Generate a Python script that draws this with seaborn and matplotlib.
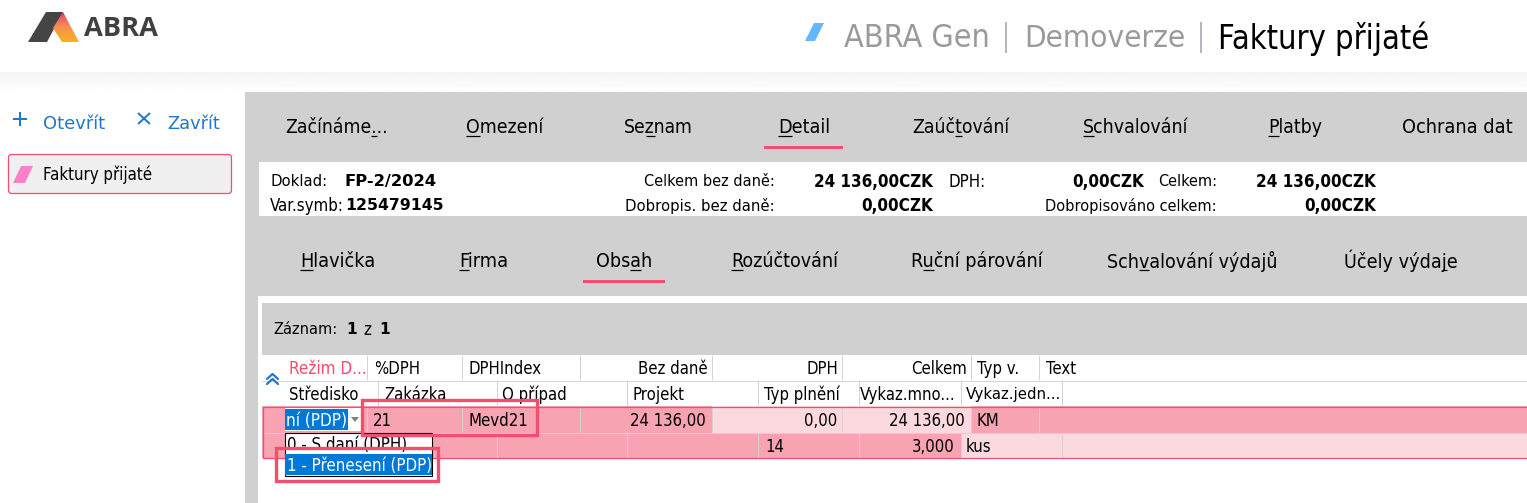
import numpy as np
import matplotlib
matplotlib.use("Agg")
import matplotlib.pyplot as plt
from matplotlib import font_manager
from matplotlib.patches import Rectangle, Polygon, FancyBboxPatch
from matplotlib.colors import LinearSegmentedColormap
import seaborn as sns

# ---- content ----
main_tabs = ["Začínáme...", "Omezení", "Seznam", "Detail", "Zaúčtování", "Schvalování", "Platby", "Ochrana dat"]
sub_tabs = ["Hlavička", "Firma", "Obsah", "Rozúčtování", "Ruční párování", "Schvalování výdajů", "Účely výdaje"]
header_top = ["Režim D...", "%DPH", "DPHIndex", "Bez daně", "DPH", "Celkem", "Typ v.", "Text"]
header_bottom = ["Středisko", "Zakázka", "O případ", "Projekt", "Typ plnění", "Vykaz.mno...", "Vykaz.jedn..."]
row_one = ["21", "Mevd21", "24 136,00", "0,00", "24 136,00", "KM"]
row_two = ["14", "3,000", "kus"]
dropdown_items = ["0 - S daní (DPH)", "1 - Přenesení (PDP)"]
title_parts = ["ABRA Gen", "Demoverze", "Faktury přijaté"]

sns.set_theme(style="white")
has_cond = any(f.name == "DejaVu Sans" and f.stretch == "condensed" for f in font_manager.fontManager.ttflist)
BASE = "DejaVu Sans" if has_cond else "Noto Sans"
STRETCH = "condensed" if has_cond else "normal"
plt.rcParams["font.family"] = [BASE, "DejaVu Sans"]

W, H = 1527, 503
fig = plt.figure(figsize=(W / 100, H / 100), dpi=100, facecolor="white")
ax = fig.add_axes([0, 0, 1, 1])
sns.despine(ax=ax, left=True, bottom=True)
ax.set_xticks([]); ax.set_yticks([])

GREY = "#d0d0d0"; PINK = "#f7a3b2"; LIGHT = "#fbd9df"; RED = "#f24e6f"; LINE = "#d4d4d4"
BLUE = "#2277cc"; SEL = "#0078d7"
TBL = 16.6

def box(x0, y0, x1, y1, fc, ec="none", lw=0, z=1):
    ax.add_patch(Rectangle((x0, y0), x1 - x0, y1 - y0, fc=fc, ec=ec, lw=lw, zorder=z))

def line(x0, y0, x1, y1, c=LINE, lw=1.0, z=3):
    ax.plot([x0, x1], [y0, y1], color=c, lw=lw * 0.72, zorder=z, solid_capstyle="butt")

def txt(x, y, s, px=TBL, c="black", ha="left", w="normal", fam=None, under=None, z=6, target=None, st=None):
    kw = {"family": fam} if fam else {}
    kw["stretch"] = st or STRETCH
    y = y - 0.8
    t = ax.text(x, y, s, fontsize=px * 0.72, color=c, ha=ha, va="center_baseline", fontweight=w, zorder=z, **kw)
    if target:
        r = fig.canvas.get_renderer()
        wd = t.get_window_extent(r).width
        t.set_fontsize(t.get_fontsize() * target / wd)
    if under is not None:
        r = fig.canvas.get_renderer()
        a, b = under
        fs = t.get_fontsize()
        def width(sub):
            if not sub:
                return 0
            q = ax.text(0, 0, sub, fontsize=fs, fontweight=w, **kw)
            e = q.get_window_extent(r).width
            q.remove()
            return e
        x0 = x + width(s[:a]); x1 = x + width(s[:b])
        line(x0, y + px * 0.56, x1, y + px * 0.56, c="black", lw=1.2, z=z)
    return t

# backgrounds
box(0, 72, W, 92, "white")
shade = np.linspace(0.955, 1, 20).reshape(-1, 1)
ax.imshow(shade, extent=(0, W, 92, 72), cmap="gray", vmin=0, vmax=1, aspect="auto", zorder=1)
box(245, 92, W, H, GREY)
box(259, 162, W, 216, "white", z=2)
box(258, 296, W, H, "white", z=2)
box(262, 303, W, 355, GREY, z=3)

# logo
dark = Polygon([(28, 42), (46, 12), (63, 12), (47, 42)], fc="#454545", ec="none", zorder=4)
ax.add_patch(dark)
tri = Polygon([(63, 12), (79, 42), (62, 42), (53, 28)], fc="none", ec="none", zorder=5)
ax.add_patch(tri)
cm = LinearSegmentedColormap.from_list("logo", [(0, "#e0107f"), (0.15, "#ee5a6a"), (0.5, "#f49050"), (1, "#fbb020")])
im = ax.imshow(np.linspace(0, 1, 30).reshape(-1, 1), extent=(50, 80, 42, 12), cmap=cm, aspect="auto", zorder=5)
im.set_clip_path(tri)
txt(84, 27, "ABRA", px=28, c="#404040", w="bold", fam="Open Sans", target=74, st="normal")

# title bar
ax.add_patch(Polygon([(805, 41), (814, 23), (824, 23), (815, 41)], fc="#63b7ff", ec="none", zorder=4))
txt(844, 36, title_parts[0], px=30, c="#9a9a9a", target=146)
line(1006, 22, 1006, 53, c="#a5a5b5", lw=1.6)
txt(1024, 36, title_parts[1], px=30, c="#9a9a9a", target=162)
line(1201, 22, 1201, 53, c="#a5a5b5", lw=1.6)
txt(1218, 36, title_parts[2], px=30, c="black", target=212)

# sidebar
line(20, 112, 20, 126, c=BLUE, lw=2); line(13, 119, 27, 119, c=BLUE, lw=2)
line(138, 113, 150, 124, c=BLUE, lw=2); line(150, 113, 138, 124, c=BLUE, lw=2)
txt(43, 123, "Otevřít", px=16, c=BLUE, fam="DejaVu Sans", target=62, st="normal")
txt(167, 123, "Zavřít", px=16, c=BLUE, fam="DejaVu Sans", target=53, st="normal")
ax.add_patch(FancyBboxPatch((8.5, 154.5), 223, 39, boxstyle="round,pad=0,rounding_size=3",
                            fc="#f0f0f0", ec=RED, lw=0.9, zorder=3))
ax.add_patch(Polygon([(13, 183), (21, 166), (33, 166), (25, 183)], fc="#ff7fc8", ec="none", zorder=4))
txt(43, 174, "Faktury přijaté", px=16, target=109)

# main tabs
main_x = [285, 466, 624, 778, 912, 1083, 1268, 1402]
main_w = [103, 78, 69, 52, 97, 105, 54, 110]
main_u = [(8, 9), (0, 1), (2, 3), (0, 1), (4, 5), (0, 1), (0, 1), None]
for s, x, wd, u in zip(main_tabs, main_x, main_w, main_u):
    txt(x, 126, s, px=19, target=wd, under=u)
box(764, 146, 843, 149, RED, z=5)

# info panel
txt(270, 181, "Doklad:", target=57)
txt(345, 181, "FP-2/2024", w="bold", fam="DejaVu Sans", target=93, st="normal")
txt(270, 205, "Var.symb:", target=74)
txt(345, 205, "125479145", w="bold", fam="DejaVu Sans", target=99, st="normal")
txt(775, 181, "Celkem bez daně:", ha="right", target=132)
txt(775, 205, "Dobropis. bez daně:", ha="right", target=149)
txt(933, 181, "24 136,00CZK", w="bold", ha="right", target=119)
txt(933, 205, "0,00CZK", w="bold", ha="right", target=72)
txt(948, 181, "DPH:", target=37)
txt(1144, 181, "0,00CZK", w="bold", ha="right", target=72)
txt(1158, 181, "Celkem:", target=59)
txt(1376, 181, "24 136,00CZK", w="bold", ha="right", target=120)
txt(1217, 205, "Dobropisováno celkem:", ha="right", target=172)
txt(1376, 205, "0,00CZK", w="bold", ha="right", target=72)

# sub tabs
sub_x = [300, 459, 596, 731, 911, 1107, 1344]
sub_w = [75, 49, 56, 107, 131, 170, 113]
sub_u = [(0, 1), (0, 1), (3, 4), (0, 1), (1, 2), (3, 4), (10, 11)]
for s, x, wd, u in zip(sub_tabs, sub_x, sub_w, sub_u):
    txt(x, 260, s, px=19, target=wd, under=u)
box(583, 280, 665, 283, RED, z=5)

# record bar
txt(273, 329, "Záznam:", target=64)
txt(346, 329, "1", px=15.5, w="bold", fam="DejaVu Sans", st="normal")
txt(363, 329, "z")
txt(379, 329, "1", px=15.5, w="bold", fam="DejaVu Sans", st="normal")

# table
top_sep = [367, 462, 580, 712, 842, 971, 1039]
bot_sep = [378, 497, 627, 758, 859, 961, 1062]
for x in top_sep:
    line(x, 355, x, 380)
for x in bot_sep:
    line(x, 381, x, 406)
line(262, 380.5, W, 380.5)
txt(289, 368, header_top[0], c=RED, target=78)
txt(374, 368, header_top[1])
txt(468, 368, header_top[2])
txt(708, 368, header_top[3], ha="right")
txt(838, 368, header_top[4], ha="right")
txt(967, 368, header_top[5], ha="right")
txt(977, 368, header_top[6])
txt(1046, 368, header_top[7])
for s, x in zip(header_bottom, [289, 384, 502, 633, 764, 860, 966]):
    txt(x, 394, s, target={"Vykaz.mno...": 96, "Vykaz.jedn...": 95}.get(s))

box(262, 406, 712, 432.5, PINK, z=3)
box(712, 406, 971, 432.5, LIGHT, z=3)
box(971, 406, W, 432.5, PINK, z=3)
box(262, 432.5, 961, 458, PINK, z=3)
box(961, 432.5, W, 458, LIGHT, z=3)
for x in top_sep:
    line(x, 406, x, 432, c="#d9d0d2", z=4)
for x in bot_sep:
    line(x, 433, x, 458, c="#d9d0d2", z=4)
line(262, 432.5, W, 432.5, c="#d9d0d2", z=4)
ax.add_patch(Rectangle((262.5, 406.5), W, 51.5, fc="none", ec=RED, lw=0.9, zorder=5))

txt(373, 420, row_one[0])
txt(468, 420, row_one[1])
txt(706, 420, row_one[2], ha="right")
txt(837, 420, row_one[3], ha="right")
txt(965, 420, row_one[4], ha="right")
txt(976, 420, row_one[5])
txt(765, 446, row_two[0])
txt(955, 446, row_two[1], ha="right")
txt(966, 446, row_two[2])

# collapse chevrons
for y in (379, 384):
    ax.plot([267, 272.5, 278], [y, y - 5, y], color=BLUE, lw=1.6, zorder=6)

# editor + dropdown
box(285, 408, 362, 431, "white", z=7)
box(285, 409, 348, 430, SEL, z=8)
txt(286, 420, "ní (PDP)", c="white", z=9, target=61)
ax.add_patch(Polygon([(351, 417), (359, 417), (355, 422)], fc="#808080", ec="none", zorder=9))
ax.add_patch(Rectangle((284.5, 432.5), 147.5, 43, fc="white", ec="black", lw=0.8, zorder=8))
box(285, 454, 431.5, 475, SEL, z=9)
txt(287, 444, dropdown_items[0], z=9, target=120)
txt(287, 465, dropdown_items[1], c="white", z=10, target=145)
ax.add_patch(Rectangle((362, 400), 175, 35, fc="none", ec=RED, lw=2.4, zorder=11))
ax.add_patch(Rectangle((276, 448), 162, 33, fc="none", ec=RED, lw=2.4, zorder=11))

ax.set_xlim(0, W)
ax.set_ylim(H, 0)
fig.savefig("out.png", dpi=100, facecolor="white")
